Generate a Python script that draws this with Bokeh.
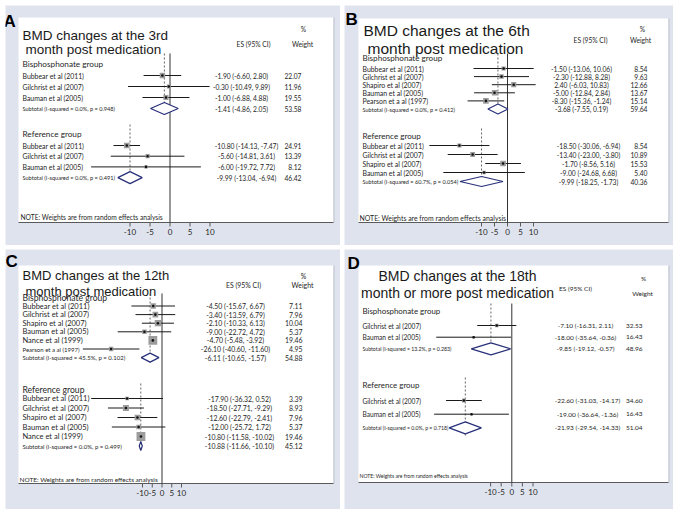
import math
from bokeh.plotting import figure
from bokeh.models import Range1d, Spacer
from bokeh.layouts import column, row
from bokeh.embed import file_html
from bokeh.resources import INLINE
from bokeh.core.properties import value

# ---------------- data ----------------
# Panel A: 3rd month
a_bis_names = ["Bubbear et al (2011)", "Gilchrist et al (2007)", "Bauman et al (2005)"]
a_bis_es = [-1.90, -0.30, -1.00]
a_bis_lo = [-6.60, -10.49, -6.88]
a_bis_hi = [2.80, 9.89, 4.88]
a_bis_w = [22.07, 11.96, 19.55]
a_bis_sub = [-1.41, -4.86, 2.05, 53.58]
a_bis_het = "Subtotal  (I-squared = 0.0%, p = 0.948)"
a_ref_names = ["Bubbear et al (2011)", "Gilchrist et al (2007)", "Bauman et al (2005)"]
a_ref_es = [-10.80, -5.60, -6.00]
a_ref_lo = [-14.13, -14.81, -19.72]
a_ref_hi = [-7.47, 3.61, 7.72]
a_ref_w = [24.91, 13.39, 8.12]
a_ref_sub = [-9.99, -13.04, -6.94, 46.42]
a_ref_het = "Subtotal  (I-squared = 0.0%, p = 0.491)"

# Panel B: 6th month
b_bis_names = ["Bubbear et al (2011)", "Gilchrist et al (2007)", "Shapiro et al (2007)",
               "Bauman et al (2005)", "Pearson et a al (1997)"]
b_bis_es = [-1.50, -2.30, 2.40, -5.00, -8.30]
b_bis_lo = [-13.06, -12.88, -6.03, -12.84, -15.36]
b_bis_hi = [10.06, 8.28, 10.83, 2.84, -1.24]
b_bis_w = [8.54, 9.63, 12.66, 13.67, 15.14]
b_bis_sub = [-3.68, -7.55, 0.19, 59.64]
b_bis_het = "Subtotal  (I-squared = 0.0%, p = 0.412)"
b_ref_names = ["Bubbear et al (2011)", "Gilchrist et al (2007)", "Shapiro et al (2007)",
               "Bauman et al (2005)"]
b_ref_es = [-18.50, -13.40, -1.70, -9.00]
b_ref_lo = [-30.06, -23.00, -8.56, -24.68]
b_ref_hi = [-6.94, -3.80, 5.16, 6.68]
b_ref_w = [8.54, 10.89, 15.53, 5.40]
b_ref_sub = [-9.99, -18.25, -1.73, 40.36]
b_ref_het = "Subtotal  (I-squared = 60.7%, p = 0.054)"

# Panel C: 12th month
c_bis_names = ["Bubbear et al (2011)", "Gilchrist et al (2007)", "Shapiro et al (2007)",
               "Bauman et al (2005)", "Nance et al (1999)", "Pearson et a al (1997)"]
c_bis_es = [-4.50, -3.40, -2.10, -9.00, -4.70, -26.10]
c_bis_lo = [-15.67, -13.59, -10.33, -22.72, -5.48, -40.60]
c_bis_hi = [6.67, 6.79, 6.13, 4.72, -3.92, -11.60]
c_bis_w = [7.11, 7.96, 10.04, 5.37, 19.46, 4.95]
c_bis_sub = [-6.11, -10.65, -1.57, 54.88]
c_bis_het = "Subtotal  (I-squared = 45.5%, p = 0.102)"
c_ref_names = ["Bubbear et al (2011)", "Gilchrist et al (2007)", "Shapiro et al (2007)",
               "Bauman et al (2005)", "Nance et al (1999)"]
c_ref_es = [-17.90, -18.50, -12.60, -12.00, -10.80]
c_ref_lo = [-36.32, -27.71, -22.79, -25.72, -11.58]
c_ref_hi = [0.52, -9.29, -2.41, 1.72, -10.02]
c_ref_w = [3.39, 8.93, 7.96, 5.37, 19.46]
c_ref_sub = [-10.88, -11.66, -10.10, 45.12]
c_ref_het = "Subtotal  (I-squared = 0.0%, p = 0.499)"

# Panel D: 18th month or more
d_bis_names = ["Gilchrist et al (2007)", "Bauman et al (2005)"]
d_bis_es = [-7.10, -18.00]
d_bis_lo = [-16.31, -35.64]
d_bis_hi = [2.11, -0.36]
d_bis_w = [32.53, 16.43]
d_bis_sub = [-9.85, -19.12, -0.57, 48.96]
d_bis_het = "Subtotal  (I-squared = 13.2%, p = 0.283)"
d_ref_names = ["Gilchrist et al (2007)", "Bauman et al (2005)"]
d_ref_es = [-22.60, -19.00]
d_ref_lo = [-31.03, -36.64]
d_ref_hi = [-14.17, -1.36]
d_ref_w = [34.60, 16.43]
d_ref_sub = [-21.93, -29.54, -14.33, 51.04]
d_ref_het = "Subtotal  (I-squared = 0.0%, p = 0.718)"

ticks = [-10, -5, 0, 5, 10]
tick_labels = ["-10", "-5", "0", "5", "10"]
group_labels = ["Bisphosphonate group", "Reference group"]
note_text = "NOTE: Weights are from random effects analysis"

# ---------------- style ----------------
BG = "#dfe3ee"
TXT = "#262626"
BODY = "Lato"
HEAD = "Liberation Sans"
NAVY = "#28307a"


def fmt_ci(e, l, h):
    return "%.2f (%.2f, %.2f)" % (e, l, h)


def panel(letter, titles, title_size, title_align, bis, ref, g):
    fw, fh = g["frame"]
    L, T, R, B = g["borders"]
    W, H = L + fw + R, T + fh + B
    zx, sc = g["zero"], g["scale"]
    p = figure(width=W, height=H, output_backend="svg", toolbar_location=None,
               x_range=Range1d(-(L + zx) / sc, (fw + R - zx) / sc),
               y_range=Range1d(H, 0), x_axis_location=None, y_axis_location=None,
               min_border=0, background_fill_color=BG, border_fill_color=BG,
               outline_line_color=None)
    p.title.visible = False
    p.extra_x_ranges = {"px": Range1d(0, W)}
    p.grid.visible = False

    fs = g["fs"]
    axis_y = T + fh

    def txt(x, y, t, size, align="left", baseline="middle", font=BODY, color=TXT,
            style="normal"):
        p.text(x=[v + L for v in x], y=[v + T for v in y], text=t, x_range_name="px",
               text_font=value(font), text_font_size=size, text_align=align,
               text_baseline=baseline, text_color=color, text_font_style=style)

    # white box with faint shadow on the right
    p.quad(left=[L], right=[L + fw], top=[T], bottom=[axis_y], x_range_name="px",
           fill_color="white", line_color=None)
    p.segment(x0=[L + fw + 0.5], x1=[L + fw + 0.5], y0=[T], y1=[axis_y],
              x_range_name="px", line_color="#c4c8d3", line_width=1.2)

    # axis (line, ticks, labels) on the effect-size scale
    p.segment(x0=[L], x1=[L + fw], y0=[axis_y], y1=[axis_y], x_range_name="px",
              line_color="#5a5a5a", line_width=1)
    p.segment(x0=ticks, x1=ticks, y0=[axis_y] * len(ticks), y1=[axis_y + 4] * len(ticks),
              line_color="#5a5a5a", line_width=1)
    p.text(x=ticks, y=[axis_y + 9.5] * len(ticks), text=tick_labels,
           text_font=value(BODY), text_font_size="8px", text_align="center",
           text_baseline="middle", text_color=TXT)

    # titles
    txt([t[1] for t in titles], [t[2] for t in titles], [t[0] for t in titles],
        title_size, align=title_align, baseline="alphabetic", font=HEAD, color="#1a1a1a")
    # column headers
    txt([g["pct"][0]], [g["pct"][1]], ["%"], fs["hdr"], align="center")
    txt([g["wh"][0]], [g["wh"][1]], ["Weight"], fs["hdr"], align="center")
    txt([g["esh"][0]], [g["esh"][1]], ["ES (95% CI)"], fs["hdr"], align="center")

    # zero line
    p.segment(x0=[0], x1=[0], y0=[T + g["zero_top"]], y1=[axis_y], line_color="#333333",
              line_width=1)

    for gi, (grp, gg) in enumerate(zip([bis, ref], [g["bis"], g["ref"]])):
        names, es, lo, hi, w, sub, het = grp
        n = len(names)
        ys = [gg["start"] + i * gg["step"] for i in range(n)]
        ysub = gg["start"] + n * gg["step"]
        yd = [v + T for v in ys]
        ysd = ysub + T
        txt([g["name_x"]], [gg["hdr"]], [group_labels[gi]], fs["grp"])
        p.segment(x0=[sub[0]], x1=[sub[0]], y0=[T + gg["dash"][0]], y1=[T + gg["dash"][1]],
                  line_color="#555555", line_width=0.9, line_dash="2 2")
        p.segment(x0=lo, x1=hi, y0=yd, y1=yd, line_color="#1a1a1a", line_width=1)
        p.scatter(x=es, y=yd, marker="square",
                  size=[g["box_k"] * math.sqrt(v) for v in w],
                  fill_color="#9c9c9c", line_color=None)
        p.scatter(x=es, y=yd, marker="circle", size=2.6, fill_color="#111111",
                  line_color=None)
        h = g["dia_h"]
        p.patches(xs=[[sub[1], sub[0], sub[2], sub[0], sub[1]]],
                  ys=[[ysd, ysd - h, ysd, ysd + h, ysd]],
                  fill_color="white", line_color=NAVY, line_width=1.2)
        nsz = fs.get("names_" + str(gi), [fs["name"]] * n)
        for nm, yy, sz in zip(names, ys, nsz):
            txt([g["name_x"]], [yy], [nm], sz)
        txt([g["name_x"]], [ysub], [het], fs["sub"])
        txt([gg["es_x"]] * (n + 1), ys + [ysub],
            [fmt_ci(e, l, hh) for e, l, hh in zip(es, lo, hi)] + [fmt_ci(sub[0], sub[1], sub[2])],
            fs["num"], align="center")
        txt([g["w_x"]] * (n + 1), ys + [ysub],
            ["%.2f" % v for v in w] + ["%.2f" % sub[3]], fs["num"], align="right")

    txt([g["note"][0]], [g["note"][1]], [note_text], fs["note"])
    txt([g["letter"][0]], [g["letter"][1]], [letter], "17px", baseline="top", font=HEAD,
        color="#000000", style="bold")
    return p


gA = dict(frame=(315, 205), borders=(13, 12, 7, 23), zero=151.5, scale=4.0,
          pct=(285, 11), wh=(284, 26), esh=(235, 26), name_x=4, w_x=283,
          bis=dict(hdr=46, start=58, step=11, dash=(36, 97), es_x=223),
          ref=dict(hdr=116, start=128, step=10.7, dash=(107, 166), es_x=228),
          note=(2, 199), zero_top=36, box_k=1.15, dia_h=6, letter=(-15, -6),
          fs=dict(name="6.9px", grp="8.2px", num="6.7px", sub="5.6px", note="6.7px",
                  hdr="6.7px"))
gB = dict(frame=(310, 204), borders=(14, 13, 5, 23), zero=149, scale=2.6,
          pct=(284, 10), wh=(282, 21), esh=(232, 21), name_x=4, w_x=289,
          bis=dict(hdr=39, start=50, step=8.1, dash=(35, 95), es_x=223),
          ref=dict(hdr=117, start=127, step=9, dash=(110, 168), es_x=230),
          note=(1, 199), zero_top=35, box_k=1.45, dia_h=5, letter=(-13, -9),
          fs=dict(name="6.9px", grp="8.1px", num="6.7px", sub="5.6px", note="6.9px",
                  hdr="6.7px"))
gC = dict(frame=(315, 218), borders=(13, 16, 7, 26), zero=143.5, scale=1.95,
          pct=(285, 10), wh=(284, 19), esh=(225, 19), name_x=4, w_x=284,
          bis=dict(hdr=32.5, start=40.5, step=8.6, dash=(28, 97), es_x=217),
          ref=dict(hdr=124, start=133, step=9.5, dash=(118, 186), es_x=221),
          note=(1, 214), zero_top=28, box_k=2.0, dia_h=4.5, letter=(-13, -14),
          fs=dict(name="7.5px", grp="8.6px", num="6.9px", sub="6px", note="6.5px",
                  hdr="6.9px", names_0=["7.5px"] * 5 + ["6px"]))
gD = dict(frame=(310, 217), borders=(14, 16, 5, 27), zero=153.3, scale=2.12,
          pct=(285, 13), wh=(284, 28), esh=(217, 23), name_x=4, w_x=284,
          bis=dict(hdr=45, start=60, step=11.7, dash=(38, 90), es_x=227),
          ref=dict(hdr=119, start=135, step=13.7, dash=(112, 170), es_x=229),
          note=(1, 210), zero_top=38, box_k=0.65, dia_h=6, letter=(-11, -12),
          fs=dict(name="6.6px", grp="7.9px", num="6.5px", sub="5.2px", note="5.1px",
                  hdr="6.5px"))

pA = panel("A", [("BMD changes at the 3rd", 4, 18), ("month post medication", 7, 32)],
           "13.5px", "left",
           (a_bis_names, a_bis_es, a_bis_lo, a_bis_hi, a_bis_w, a_bis_sub, a_bis_het),
           (a_ref_names, a_ref_es, a_ref_lo, a_ref_hi, a_ref_w, a_ref_sub, a_ref_het), gA)
pB = panel("B", [("BMD changes at the 6th", 5, 12), ("month post medication", 9, 30)],
           "15.5px", "left",
           (b_bis_names, b_bis_es, b_bis_lo, b_bis_hi, b_bis_w, b_bis_sub, b_bis_het),
           (b_ref_names, b_ref_es, b_ref_lo, b_ref_hi, b_ref_w, b_ref_sub, b_ref_het), gB)
pC = panel("C", [("BMD changes at the 12th", 4, 10), ("month post medication", 7, 25.8)],
           "13px", "left",
           (c_bis_names, c_bis_es, c_bis_lo, c_bis_hi, c_bis_w, c_bis_sub, c_bis_het),
           (c_ref_names, c_ref_es, c_ref_lo, c_ref_hi, c_ref_w, c_ref_sub, c_ref_het), gC)
pD = panel("D", [("BMD changes at the 18th", 99, 10.7),
                 ("month or more post medication", 99, 27.3)],
           "14px", "center",
           (d_bis_names, d_bis_es, d_bis_lo, d_bis_hi, d_bis_w, d_bis_sub, d_bis_het),
           (d_ref_names, d_ref_es, d_ref_lo, d_ref_hi, d_ref_w, d_ref_sub, d_ref_het), gD)

layout = column(
    Spacer(width=10, height=5),
    row(Spacer(width=5, height=10), pA, Spacer(width=4, height=10), pB),
    Spacer(width=10, height=4),
    row(Spacer(width=5, height=10), pC, Spacer(width=4, height=10), pD),
)

open("out.html", "w").write(file_html(layout, INLINE))
